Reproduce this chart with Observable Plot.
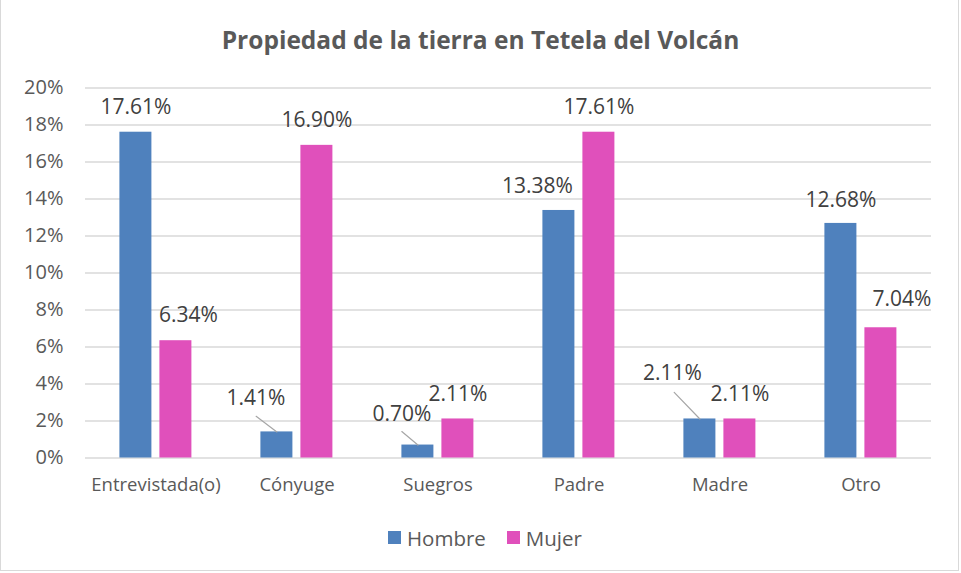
<!DOCTYPE html>
<html>
<head>
<meta charset="utf-8">
<script src="https://cdn.jsdelivr.net/npm/d3@7"></script>
<script src="https://cdn.jsdelivr.net/npm/@observablehq/plot@0.6"></script>
<style>
  html, body { margin: 0; padding: 0; background: #fff; }
  #wrap { position: relative; width: 961px; height: 573px; font-family: "Open Sans", sans-serif; overflow: hidden; }
  #border { position: absolute; left: 0; top: -1px; width: 957px; height: 570px; border: 1px solid #d9d9d9; pointer-events: none; }
  #title { height: 45px; padding-top: 25px; line-height: 30px; text-align: center; font-weight: bold; font-size: 24.5px; color: #595959; }
  #chart svg { display: block; }
  #legend { display: flex; align-items: center; height: 21px; margin-top: 17px; padding-left: 388px; color: #595959; font-size: 20.5px; }
  .item { display: flex; align-items: center; }
  .sw { width: 13px; height: 13px; margin-right: 6px; }
</style>
</head>
<body>
<div id="wrap">
  <div id="title">Propiedad de la tierra en Tetela del Volcán</div>
  <div id="chart"></div>
  <div id="legend"></div>
  <div id="border"></div>
</div>
<script>
// ---- data ----
const categories = ["Entrevistada(o)", "Cónyuge", "Suegros", "Padre", "Madre", "Otro"];
const series = ["Hombre", "Mujer"];
const hombre = [17.61, 1.41, 0.70, 13.38, 2.11, 12.68];
const mujer  = [6.34, 16.90, 2.11, 17.61, 2.11, 7.04];
const yTicks = [0, 2, 4, 6, 8, 10, 12, 14, 16, 18, 20];

// ---- label layout (pixel offsets of data labels from bar tops) ----
const labelDxHombre = [0, -21, -16, -21.5, -27.5, 0];
const labelDyHombre = [-24.5, -34, -30.5, -24, -46, -23.5];
const labelDxMujer  = [12.5, 0, 0, 0, 0, 21];
const labelDyMujer  = [-25, -25, -24.5, -24.5, -24.5, -28];
// leader lines for displaced Hombre labels
const leaderCats = ["Cónyuge", "Suegros", "Madre"];
const leaderLen  = [26, 21, 37];
const leaderRot  = [-53, -50, -44];

const colors = ["#4f81bd", "#e050bb"];

const rows = categories.flatMap((c, i) => [
  {cat: c, serie: "Hombre", value: hombre[i], dx: labelDxHombre[i], dy: labelDyHombre[i]},
  {cat: c, serie: "Mujer", value: mujer[i], dx: labelDxMujer[i], dy: labelDyMujer[i]}
]);

const labelMarks = rows.map(d => Plot.text([d], {
  fx: "cat", x: "serie", y: "value",
  text: r => r.value.toFixed(2) + "%",
  dx: d.dx, dy: d.dy,
  fontSize: 21, fill: "#404040", lineAnchor: "middle"
}));

const leaderMarks = leaderCats.map((c, k) => {
  const i = categories.indexOf(c);
  return Plot.vector([{cat: c, serie: "Hombre", value: hombre[i]}], {
    fx: "cat", x: "serie", y: "value",
    length: leaderLen[k], rotate: leaderRot[k], anchor: "start",
    r: 0, stroke: "#a6a6a6", strokeWidth: 1.2
  });
});

const chart = Plot.plot({
  width: 961,
  height: 440,
  marginLeft: 82.6,
  marginRight: 27.9,
  marginTop: 17.5,
  marginBottom: 52.5,
  style: {fontFamily: "Open Sans", background: "transparent"},
  fx: {domain: categories, padding: 0, label: null},
  x: {domain: series, paddingInner: 0.21, paddingOuter: 0.855, axis: null},
  y: {domain: [0, 20]},
  color: {domain: series, range: colors},
  marks: [
    Plot.gridY(yTicks, {stroke: "#d9d9d9", strokeOpacity: 1, strokeWidth: 1.3}),
    Plot.axisY(yTicks, {tickSize: 0, tickPadding: 22, tickFormat: d => d + "%", fontSize: 20, fill: "#595959", label: null}),
    Plot.axisFx({anchor: "bottom", tickSize: 0, tickPadding: 20, fontSize: 18.5, fill: "#595959", label: null}),
    Plot.barY(rows, {fx: "cat", x: "serie", y: "value", fill: "serie"}),
    ...leaderMarks,
    ...labelMarks
  ]
});
document.getElementById("chart").appendChild(chart);

// legend
const legend = document.getElementById("legend");
series.forEach((s, i) => {
  const item = document.createElement("div");
  item.className = "item";
  if (i > 0) item.style.marginLeft = "21px";
  const sw = document.createElement("div");
  sw.className = "sw";
  sw.style.background = colors[i];
  const t = document.createElement("span");
  t.textContent = s;
  item.appendChild(sw);
  item.appendChild(t);
  legend.appendChild(item);
});
</script>
</body>
</html>
